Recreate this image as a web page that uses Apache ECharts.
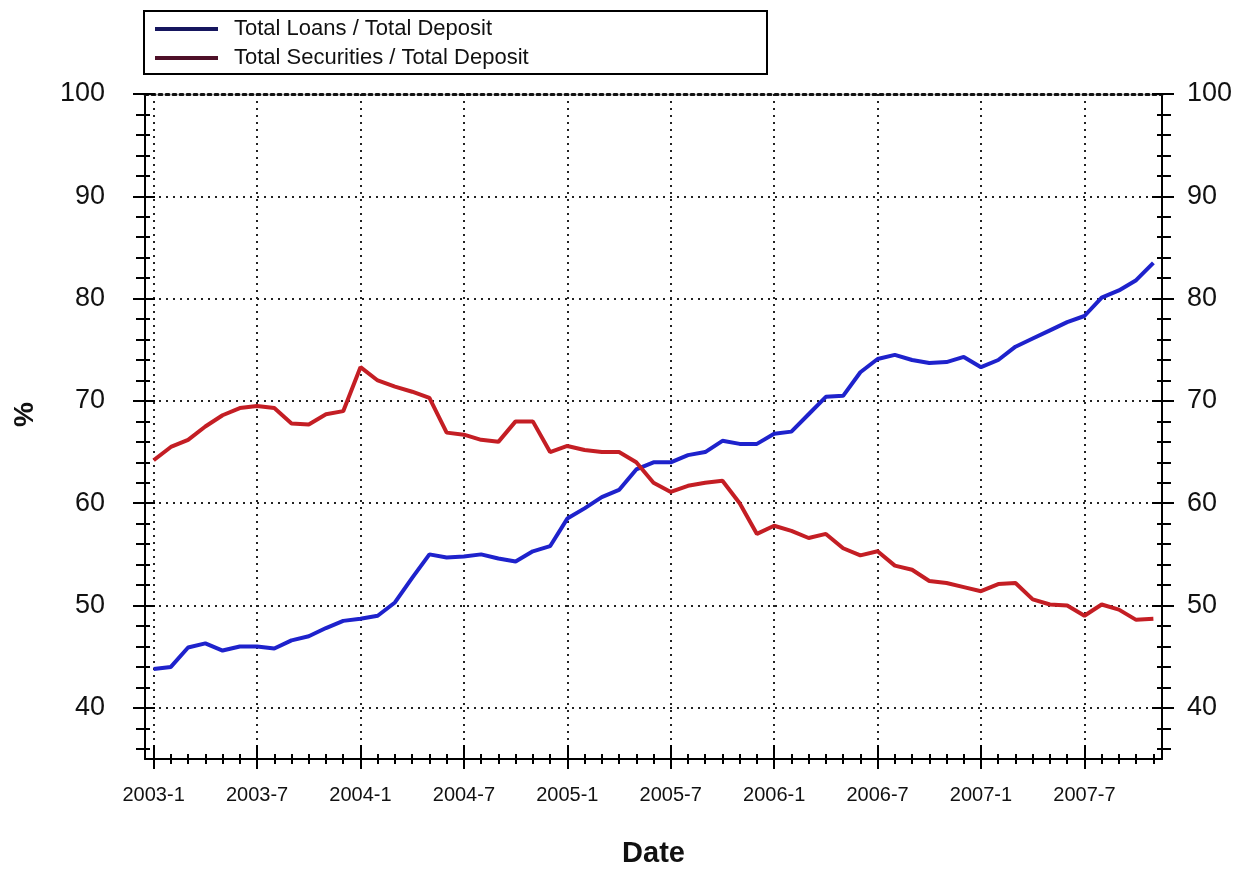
<!DOCTYPE html>
<html>
<head>
<meta charset="utf-8">
<script src="https://cdn.jsdelivr.net/npm/echarts@6/dist/echarts.min.js"></script>
<style>html,body{margin:0;padding:0;background:#fff}#c{width:1247px;height:873px}</style>
</head>
<body>
<div id="c"></div>
<script>
// ---- data ----
const months = [
  "2003-1","2003-2","2003-3","2003-4","2003-5","2003-6","2003-7","2003-8","2003-9","2003-10","2003-11","2003-12",
  "2004-1","2004-2","2004-3","2004-4","2004-5","2004-6","2004-7","2004-8","2004-9","2004-10","2004-11","2004-12",
  "2005-1","2005-2","2005-3","2005-4","2005-5","2005-6","2005-7","2005-8","2005-9","2005-10","2005-11","2005-12",
  "2006-1","2006-2","2006-3","2006-4","2006-5","2006-6","2006-7","2006-8","2006-9","2006-10","2006-11","2006-12",
  "2007-1","2007-2","2007-3","2007-4","2007-5","2007-6","2007-7","2007-8","2007-9","2007-10","2007-11"
];
const loansToDeposit = [
  43.8,44.0,45.9,46.3,45.6,46.0,46.0,45.8,46.6,47.0,47.8,48.5,
  48.7,49.0,50.3,52.7,55.0,54.7,54.8,55.0,54.6,54.3,55.3,55.8,
  58.5,59.5,60.6,61.3,63.3,64.0,64.0,64.7,65.0,66.1,65.8,65.8,
  66.8,67.0,68.7,70.4,70.5,72.8,74.1,74.5,74.0,73.7,73.8,74.3,
  73.3,74.0,75.3,76.1,76.9,77.7,78.3,80.1,80.8,81.8,83.5
];
const securitiesToDeposit = [
  64.2,65.5,66.2,67.5,68.6,69.3,69.5,69.3,67.8,67.7,68.7,69.0,
  73.3,72.0,71.4,70.9,70.3,66.9,66.7,66.2,66.0,68.0,68.0,65.0,
  65.6,65.2,65.0,65.0,64.0,62.0,61.1,61.7,62.0,62.2,60.0,57.0,
  57.8,57.3,56.6,57.0,55.6,54.9,55.3,53.9,53.5,52.4,52.2,51.8,
  51.4,52.1,52.2,50.6,50.1,50.0,49.0,50.1,49.6,48.6,48.7
];
const seriesNames = ["Total Loans / Total Deposit", "Total Securities / Total Deposit"];
const yTickLabels = [40, 50, 60, 70, 80, 90, 100];
const yMin = 35, yMax = 100;
const yTickSteps = [];
for (let v = yMin; v <= yMax; v++) yTickSteps.push(String(v));

// ---- chart ----
const FONT = "Liberation Sans, Arial, sans-serif";
const chart = echarts.init(document.getElementById('c'), null, {renderer: 'canvas'});

const blk = {color: '#000', width: 2};
function xTickAxis(pos, inside, len, major) {
  return {
    type: 'category', data: months, boundaryGap: true, position: pos,
    axisLine: {show: false, onZero: false},
    axisLabel: {show: false}, splitLine: {show: false},
    axisTick: {show: true, inside: inside, length: len, alignWithLabel: true,
               interval: major ? 5 : 0, lineStyle: blk}
  };
}
function yTickAxis(pos, inside, len, major) {
  return {
    type: 'category', data: yTickSteps, boundaryGap: false, position: pos,
    axisLine: {show: false, onZero: false},
    axisLabel: {show: false}, splitLine: {show: false},
    axisTick: {show: true, inside: inside, length: len, lineStyle: blk,
      interval: function (i, v) {
        const n = +v;
        return major ? (n % 10 === 0) : (n % 2 === 0 && n % 10 !== 0);
      }}
  };
}
const yLabelFmt = v => (yTickLabels.indexOf(v) >= 0 ? String(v) : '');

const option = {
  backgroundColor: '#fff',
  animation: false,
  graphic: [{
    type: 'rect', left: 143, top: 10, z: 0,
    shape: {width: 623, height: 63},
    style: {fill: '#fff', stroke: '#000', lineWidth: 2}
  }],
  legend: {
    orient: 'vertical', left: 150, top: 11, itemGap: 3,
    itemWidth: 63, itemHeight: 4,
    textStyle: {fontFamily: FONT, fontSize: 22, color: '#111', lineHeight: 26, padding: [0, 0, 0, 11]},
    data: [
      {name: seriesNames[0], icon: 'rect', itemStyle: {color: '#16165e'}},
      {name: seriesNames[1], icon: 'rect', itemStyle: {color: '#4e1028'}}
    ]
  },
  grid: {left: 145, right: 85, top: 94, bottom: 106, containLabel: false},
  xAxis: [
    {
      type: 'category', data: months, boundaryGap: true, position: 'bottom',
      axisLine: {show: true, onZero: false, lineStyle: blk},
      axisTick: {show: true, interval: 5, alignWithLabel: true, length: 10, lineStyle: blk},
      axisLabel: {show: true, interval: 5, fontFamily: FONT, fontSize: 20, color: '#111', margin: 26},
      splitLine: {show: true, interval: 5, alignWithLabel: true,
                  lineStyle: {type: [2, 5], width: 2, color: '#222'}},
      name: 'Date', nameLocation: 'middle', nameGap: 80,
      nameTextStyle: {fontFamily: FONT, fontSize: 29, fontWeight: 'bold', color: '#111'}
    },
    xTickAxis('bottom', true, 14, true),
    xTickAxis('bottom', true, 5, false),
    xTickAxis('bottom', false, 5, false),
    {
      type: 'category', data: months, boundaryGap: true, position: 'top',
      axisLine: {show: true, onZero: false, lineStyle: {color: '#111', width: 3, type: [3, 4]}},
      axisTick: {show: false}, axisLabel: {show: false}, splitLine: {show: false}
    }
  ],
  yAxis: [
    {
      type: 'value', min: yMin, max: yMax, position: 'left',
      axisLine: {show: true, onZero: false, lineStyle: blk},
      axisTick: {show: false},
      axisLabel: {show: true, fontFamily: FONT, fontSize: 27, color: '#111', margin: 40,
                  showMinLabel: false, formatter: yLabelFmt},
      splitLine: {show: true, lineStyle: {type: [2, 5], width: 2, color: '#222'}},
      name: '%', nameLocation: 'middle', nameGap: 106, nameRotate: 90,
      nameTextStyle: {fontFamily: FONT, fontSize: 28, fontWeight: 'bold', color: '#111', padding: [0, 0, 0, 24]}
    },
    {
      type: 'value', min: yMin, max: yMax, position: 'right',
      axisLine: {show: true, onZero: false, lineStyle: blk},
      axisTick: {show: false},
      axisLabel: {show: true, fontFamily: FONT, fontSize: 27, color: '#111', margin: 25,
                  showMinLabel: false, formatter: yLabelFmt},
      splitLine: {show: false}
    },
    yTickAxis('left', false, 12, true),
    yTickAxis('left', true, 10, true),
    yTickAxis('left', false, 9, false),
    yTickAxis('left', true, 5, false),
    yTickAxis('right', false, 12, true),
    yTickAxis('right', true, 10, true),
    yTickAxis('right', false, 9, false),
    yTickAxis('right', true, 5, false)
  ],
  series: [
    {
      name: seriesNames[0], type: 'line', data: loansToDeposit,
      xAxisIndex: 0, yAxisIndex: 0, symbol: 'none', smooth: false,
      lineStyle: {color: '#1e22cc', width: 4}, itemStyle: {color: '#1e22cc'}, z: 5
    },
    {
      name: seriesNames[1], type: 'line', data: securitiesToDeposit,
      xAxisIndex: 0, yAxisIndex: 0, symbol: 'none', smooth: false,
      lineStyle: {color: '#c41e24', width: 4}, itemStyle: {color: '#c41e24'}, z: 5
    }
  ]
};
chart.setOption(option);
</script>
</body>
</html>
